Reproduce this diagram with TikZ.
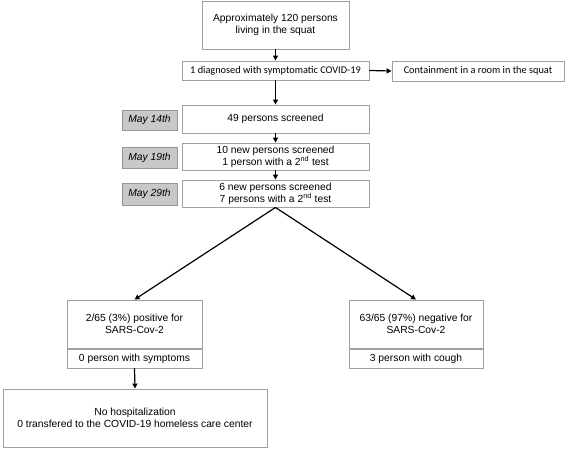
\documentclass[tikz,border=0pt]{standalone}
\usepackage{fontspec}
\setmainfont{Liberation Sans}
\newfontfamily\calibfont{Carlito}
\usepackage{xcolor}
\usepackage{tikz}
\definecolor{boxgray}{RGB}{160, 160, 160}
\definecolor{datefill}{RGB}{200, 200, 200}
\definecolor{dateline}{RGB}{150, 150, 150}
\usetikzlibrary{shapes.geometric, arrows.meta, positioning, calc}

\begin{document}
\begin{tikzpicture}[
        x=1pt, y=-1pt,
        box/.style={rectangle, draw=boxgray, line width=0.9pt, fill=white,
                    align=center, inner sep=0pt,
                    font=\fontsize{10.3pt}{12pt}\selectfont},
        datebox/.style={rectangle, draw=dateline, line width=0.8pt, fill=datefill,
                    minimum width=55pt, minimum height=20pt, inner sep=0pt,
                    font=\fontsize{10.3pt}{12pt}\selectfont\itshape},
        arrow/.style={-{Triangle[length=5pt, width=5pt]}, line width=1.2pt, black}
    ]
        \useasboundingbox (0,0) rectangle (565,448);

        \node[box, minimum width=147pt, minimum height=48pt] (squat) at (275.5,25)
            {Approximately 120 persons\\living in the squat};
        \node[box, minimum width=187pt, minimum height=19pt, font=\fontsize{10.3pt}{12pt}\calibfont] (diagnosed) at (275.5,70.5)
            {1 diagnosed with symptomatic COVID-19};
        \node[box, minimum width=172pt, minimum height=20pt, font=\fontsize{10.3pt}{12pt}\calibfont] (containment) at (478,71)
            {Containment in a room in the squat};

        \node[box, minimum width=187pt, minimum height=28pt] (screenA) at (275.5,119)
            {49 persons screened};
        \node[box, minimum width=187pt, minimum height=27pt] (screenB) at (275.5,156.5)
            {10 new persons screened\\1 person with a 2\textsuperscript{nd} test};
        \node[box, minimum width=187pt, minimum height=27pt] (screenC) at (275.5,193.5)
            {6 new persons screened\\7 persons with a 2\textsuperscript{nd} test};

        \node[datebox] (dateA) at (149.5,120) {May 14th};
        \node[datebox, minimum height=21pt] (dateB) at (149.5,157.5) {May 19th};
        \node[datebox, minimum height=22pt] (dateC) at (149.5,194) {May 29th};

        \node[box, minimum width=135pt, minimum height=48pt] (positive) at (134.5,324)
            {2/65 (3\%) positive for\\SARS-Cov-2};
        \node[box, minimum width=135pt, minimum height=19pt] (symptoms) at (134.5,358.5)
            {0 person with symptoms};
        \node[box, minimum width=134pt, minimum height=48pt] (negative) at (416,324)
            {63/65 (97\%) negative for\\SARS-Cov-2};
        \node[box, minimum width=134pt, minimum height=19pt] (cough) at (416,358.5)
            {3 person with cough};

        \node[box, minimum width=264pt, minimum height=58pt] (hospital) at (135,418)
            {No hospitalization\\0 transfered to the COVID-19 homeless care center};

        \draw[arrow] (squat.south) -- (diagnosed.north);
        \draw[arrow] (diagnosed.east) -- (containment.west);
        \draw[arrow] (diagnosed.south) -- (screenA.north);
        \draw[arrow] (screenA.south) -- (screenB.north);
        \draw[arrow] (screenB.south) -- (screenC.north);
        \draw[arrow] (screenC.south) -- (positive.north);
        \draw[arrow] (screenC.south) -- (negative.north);
        \draw[arrow] (symptoms.south) -- (hospital.north);
    \end{tikzpicture}
\end{document}
